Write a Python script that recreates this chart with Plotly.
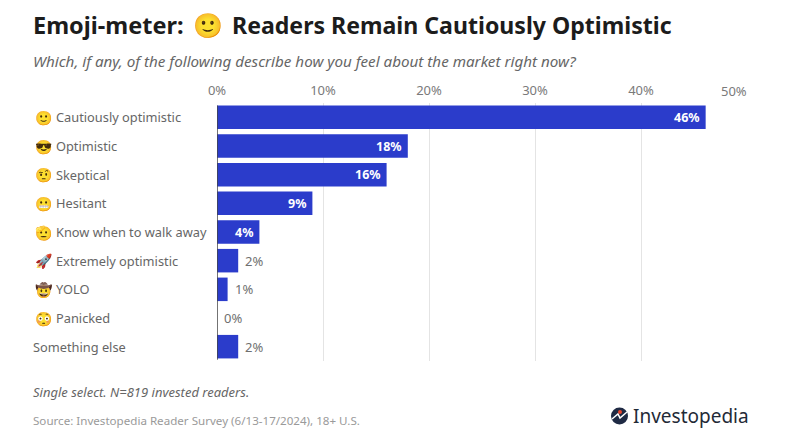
import plotly.graph_objects as go

categories = ["Cautiously optimistic", "Optimistic", "Skeptical", "Hesitant", "Know when to walk away",
              "Extremely optimistic", "YOLO", "Panicked", "Something else"]
emojis = ["🙂", "😎", "🤨", "😬", "🫡", "🚀", "🤠", "😳", ""]
values = [46.1, 18, 16, 9, 4, 2, 1, 0, 2]
tick_vals = [0, 10, 20, 30, 40, 50]
tick_text = ["0%", "10%", "20%", "30%", "40%", ""]
last_tick = "50%"
INSIDE_MIN = 4
FONT = "Noto Sans"
W, H = 800, 441
L, R, T, B = 217, 53, 103, 80
PW = W - L - R
PH = H - T - B

fig = go.Figure()
fig.add_trace(go.Bar(
    y=categories, x=values, orientation="h", marker=dict(color="#2b3ccb", line_width=0), width=0.82,
    cliponaxis=False, hoverinfo="skip"))

def px_x(p): return (p - L) / PW
def px_y(p): return 1 - (p - T) / PH

for c, e, v in zip(categories, emojis, values):
    left = 54 if e else 31
    fig.add_annotation(x=px_x(left), xref="paper", y=c, yref="y", text=c, showarrow=False,
                       xanchor="left", font=dict(size=12.8, color="#666666", family=FONT))
    if e:
        fig.add_annotation(x=px_x(33), xref="paper", y=c, yref="y", text=e, showarrow=False,
                           xanchor="left", font=dict(size=14, family=FONT))
    label = f"{round(v)}%"
    if v >= INSIDE_MIN:
        fig.add_annotation(x=v, xref="x", y=c, yref="y", text=f"<b>{label}</b>", showarrow=False,
                           xanchor="right", xshift=-4, font=dict(size=12.5, color="white", family=FONT))
    else:
        fig.add_annotation(x=v, xref="x", y=c, yref="y", text=label, showarrow=False,
                           xanchor="left", xshift=5, font=dict(size=13, color="#6f6f6f", family=FONT))

def txt(x, y, s, size, color, anchor="left"):
    fig.add_annotation(x=px_x(x), xref="paper", y=px_y(y), yref="paper", text=s, showarrow=False,
                       xanchor=anchor, yanchor="middle", font=dict(size=size, color=color, family=FONT))

txt(31, 25, "<b>Emoji-meter:</b>", 23.5, "#1c1c1c")
txt(191, 25, "🙂", 24, "#1c1c1c")
txt(230, 25, "<b>Readers Remain Cautiously Optimistic</b>", 23.1, "#1c1c1c")
txt(31, 61, "<i>Which, if any, of the following describe how you feel about the market right now?</i>", 15.2, "#666666")
txt(31, 392, "<i>Single select. N=819 invested readers.</i>", 13, "#666666")
txt(31, 420, "Source: Investopedia Reader Survey (6/13-17/2024), 18+ U.S.", 11.6, "#9a9a9a")
txt(631, 416, "Investopedia", 19, "#1f2a37")
txt(749, 91, last_tick, 13, "#7a7a7a", anchor="right")

# logo mark
fig.add_shape(type="circle", xref="paper", yref="paper", x0=px_x(611), x1=px_x(628), y0=px_y(424.5), y1=px_y(407.5),
              fillcolor="#1f2a44", line_width=0)
fig.add_shape(type="path", xref="paper", yref="paper",
              path=f"M {px_x(612)} {px_y(419)} L {px_x(618)} {px_y(414)} L {px_x(620)} {px_y(418)} L {px_x(627)} {px_y(412)}",
              line=dict(color="white", width=1.5))
fig.add_shape(type="circle", xref="paper", yref="paper", x0=px_x(618), x1=px_x(622), y0=px_y(414), y1=px_y(410),
              fillcolor="#e8452c", line_width=0)

fig.update_layout(
    width=W, height=H, margin=dict(l=L, r=R, t=T, b=B), showlegend=False,
    plot_bgcolor="white", paper_bgcolor="white", bargap=0.18,
    font=dict(family=FONT, color="#6b6b6b", size=12),
    xaxis=dict(side="top", range=[0, 50], tickvals=tick_vals, ticktext=tick_text, showgrid=True,
               gridcolor="#e4e4e4", gridwidth=1, zeroline=False, showline=False, ticks="",
               ticklabelstandoff=4, tickfont=dict(size=13, color="#7a7a7a", family=FONT)),
    yaxis=dict(autorange="reversed", showticklabels=False, ticks="", showgrid=False, zeroline=False,
               showline=False),
)
fig.add_shape(type="line", xref="x", yref="paper", x0=0, x1=0, y0=0.005, y1=0.99, line=dict(color="#444444", width=1.5))

fig.write_html("out.html", config=dict(displayModeBar=False),
               post_script="document.body.style.margin='0';")
